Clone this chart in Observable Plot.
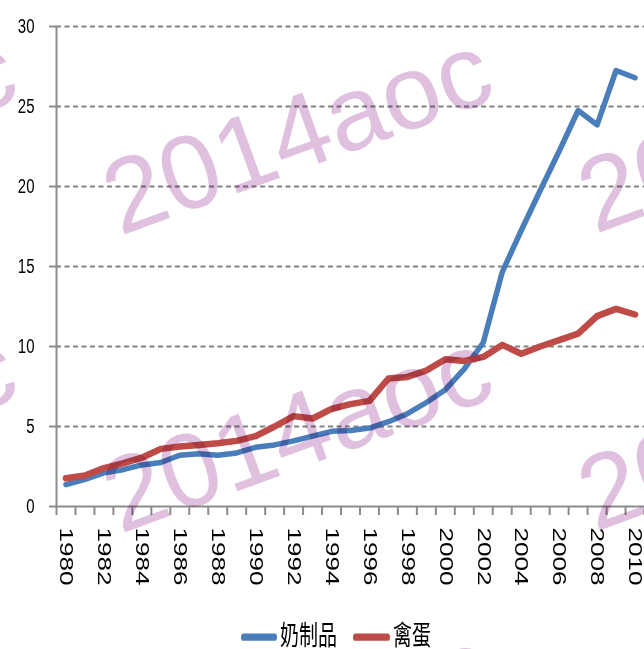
<!DOCTYPE html>
<html><head><meta charset="utf-8">
<script src="https://cdn.jsdelivr.net/npm/d3@7"></script>
<script src="https://cdn.jsdelivr.net/npm/@observablehq/plot@0.6"></script>
<style>
body{margin:0;background:#fff;}
#wrap{position:relative;width:644px;height:649px;overflow:hidden;background:#fff;}
#chart{position:absolute;left:0;top:0;}
#legend{position:absolute;left:0;top:619px;width:644px;height:22px;transform:scaleY(1.45);transform-origin:0 0;font-family:"Noto Sans CJK SC","Noto Sans",sans-serif;font-size:19px;line-height:19px;color:#000;}
#legend .sw{position:absolute;top:10px;height:5px;border-radius:2.5px;}
#legend .lb{position:absolute;top:0;white-space:nowrap;}
#wm{position:absolute;left:0;top:0;pointer-events:none;mix-blend-mode:multiply;}
</style></head><body><div id="wrap"><div id="chart"></div><div id="legend"></div></div>
<script>
const years = [1980,1981,1982,1983,1984,1985,1986,1987,1988,1989,1990,1991,1992,1993,1994,1995,1996,1997,1998,1999,2000,2001,2002,2003,2004,2005,2006,2007,2008,2009,2010];
const dairy = [1.37,1.7,2.1,2.3,2.6,2.75,3.2,3.3,3.2,3.35,3.7,3.85,4.1,4.4,4.7,4.75,4.9,5.3,5.8,6.5,7.3,8.6,10.25,14.65,17.25,19.75,22.2,24.75,23.85,27.25,26.8];
const eggs  = [1.77,1.94,2.4,2.7,3.05,3.6,3.75,3.85,3.95,4.1,4.4,5.0,5.65,5.5,6.1,6.4,6.6,8.0,8.1,8.5,9.2,9.1,9.35,10.1,9.55,10.0,10.4,10.8,11.9,12.35,12.0];
const seriesNames = ["奶制品","禽蛋"];
const seriesColors = ["#4a7ebb","#be4b48"];
const yTicks = [0,5,10,15,20,25,30];
const xLabelYears = [1980,1982,1984,1986,1988,1990,1992,1994,1996,1998,2000,2002,2004,2006,2008,2010];
const watermarkText = "2014aoc";

const dairyData = years.map((yr,i)=>({year:yr, value:dairy[i]}));
const eggData = years.map((yr,i)=>({year:yr, value:eggs[i]}));
const boundaries = years.map(y=>y-0.5).concat([years[years.length-1]+0.5]);

const chart = Plot.plot({
  width:644, height:615,
  marginLeft:56, marginRight:0, marginTop:26, marginBottom:109,
  x:{domain:[boundaries[0], boundaries[boundaries.length-1]], label:null},
  y:{domain:[0,30], label:null},
  style:{background:"transparent", overflow:"visible"},
  marks:[
    Plot.gridY(yTicks.slice(1), {stroke:"#828282", strokeOpacity:1, strokeWidth:2, strokeDasharray:"5,3.5"}),
    Plot.ruleX([boundaries[0]], {stroke:"#8c8c8c", strokeWidth:2}),
    Plot.ruleY([0], {stroke:"#8c8c8c", strokeWidth:2}),
    Plot.axisY(yTicks, {tickSize:7, tickPadding:15, stroke:"#8c8c8c", strokeWidth:2, fill:"#000", fontSize:15, fontFamily:"Liberation Sans", label:null}),
    Plot.axisX(boundaries, {tickSize:9, stroke:"#8c8c8c", strokeWidth:2, tickFormat:()=>"", label:null}),
    Plot.axisX(xLabelYears, {tickSize:0, tickPadding:21, tickRotate:90, fill:"#000", fontSize:18, fontFamily:"Liberation Sans", tickFormat:d=>String(d), label:null}),
    Plot.line(dairyData, {x:"year", y:"value", stroke:seriesColors[0], strokeWidth:5.5, strokeLinejoin:"round", strokeLinecap:"round"}),
    Plot.line(eggData, {x:"year", y:"value", stroke:seriesColors[1], strokeWidth:6.5, strokeLinejoin:"round", strokeLinecap:"round"})
  ]
});
document.getElementById("chart").appendChild(chart);

function stretch(sel, sx, sy){
  sel.each(function(){
    const t = this.getAttribute("transform") || "";
    this.setAttribute("transform", `${t} scale(${sx},${sy})`);
  });
}
const svgSel = d3.select(chart.tagName.toLowerCase()==="svg" ? chart : chart.querySelector("svg"));
stretch(svgSel.selectAll('g[aria-label="y-axis tick label"] text'), 1, 1.4);
stretch(svgSel.selectAll('g[aria-label="x-axis tick label"] text'), 1.45, 1);

// legend
const legend = d3.select("#legend");
const legendItems = [
  {name:seriesNames[0], color:seriesColors[0], swLeft:241, swW:36, lbLeft:280},
  {name:seriesNames[1], color:seriesColors[1], swLeft:353, swW:37, lbLeft:393}
];
legendItems.forEach(it=>{
  legend.append("div").attr("class","sw").style("left",it.swLeft+"px").style("width",it.swW+"px").style("background",it.color);
  legend.append("div").attr("class","lb").style("left",it.lbLeft+"px").text(it.name);
});

// watermark
const wm = d3.select("#wrap").append("svg").attr("id","wm").attr("width",644).attr("height",649);
[236,534,832].forEach(ry=>{
  [-356,120,595].forEach(cx=>{
    wm.append("text")
      .attr("transform",`translate(${cx},${ry + (cx>400?-2:0)}) rotate(-20)`)
      .attr("font-family","Liberation Sans, Arial, sans-serif")
      .attr("font-size",105)
      .attr("fill","#e0c0df")
      .text(watermarkText);
  });
});
</script>
</body></html>
